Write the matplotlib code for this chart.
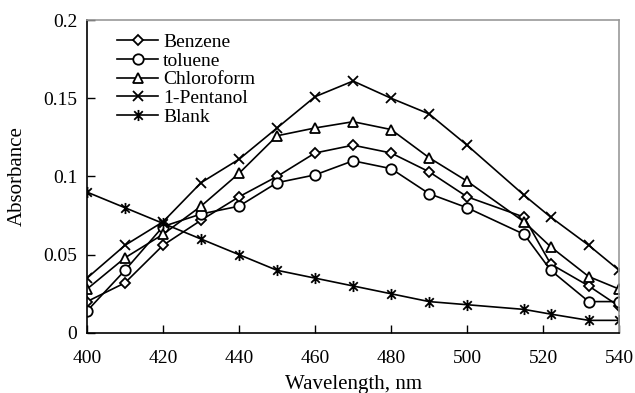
import matplotlib
matplotlib.use("Agg")
import matplotlib.pyplot as plt
from matplotlib.path import Path

wavelength = [400, 410, 420, 430, 440, 450, 460, 470, 480, 490, 500, 515, 522, 532, 540]
benzene    = [0.020, 0.032, 0.056, 0.072, 0.087, 0.100, 0.115, 0.120, 0.115, 0.103, 0.087, 0.074, 0.044, 0.030, 0.017]
toluene    = [0.014, 0.040, 0.068, 0.076, 0.081, 0.096, 0.101, 0.110, 0.105, 0.089, 0.080, 0.063, 0.040, 0.020, 0.020]
chloroform = [0.028, 0.048, 0.063, 0.081, 0.102, 0.126, 0.131, 0.135, 0.130, 0.112, 0.097, 0.071, 0.055, 0.036, 0.028]
pentanol   = [0.035, 0.056, 0.071, 0.096, 0.111, 0.131, 0.151, 0.161, 0.150, 0.140, 0.120, 0.088, 0.074, 0.056, 0.040]
blank      = [0.090, 0.080, 0.070, 0.060, 0.050, 0.040, 0.035, 0.030, 0.025, 0.020, 0.018, 0.015, 0.012, 0.008, 0.008]

labels = ["Benzene", "toluene", "Chloroform", "1-Pentanol", "Blank"]

plt.rcParams['font.family'] = ['Liberation Serif', 'DejaVu Serif']

star = Path([(-1, -1), (1, 1), (-1, 1), (1, -1), (0, -1.3), (0, 1.3)],
            [Path.MOVETO, Path.LINETO, Path.MOVETO, Path.LINETO, Path.MOVETO, Path.LINETO])

fig = plt.figure(figsize=(6.35, 3.93), dpi=100)
ax = fig.add_axes([0.137, 0.153, 0.838, 0.796])

styles = [
    (benzene, 'D', 5.5),
    (toluene, 'o', 7.5),
    (chloroform, '^', 7.5),
    (pentanol, 'x', 7.5),
    (blank, star, 8),
]
for (vals, m, ms), lab in zip(styles, labels):
    ax.plot(wavelength, vals, color='black', lw=1.2, marker=m, ms=ms,
            mfc='white', mec='black', mew=1.3, label=lab)

ax.set_xlim(400, 540)
ax.set_ylim(0, 0.2)
ax.set_xticks([400, 420, 440, 460, 480, 500, 520, 540])
ax.set_yticks([0, 0.05, 0.1, 0.15, 0.2])
ax.set_yticklabels(['0', '0.05', '0.1', '0.15', '0.2'])
ax.tick_params(direction='in', length=6, width=1, labelsize=14, colors='black')
ax.tick_params(axis='x', pad=12)
ax.tick_params(axis='y', pad=7)
for s in ['left', 'bottom']:
    ax.spines[s].set_color('black')
    ax.spines[s].set_linewidth(1.2)
for s in ['top', 'right']:
    ax.spines[s].set_color('#999999')
    ax.spines[s].set_linewidth(1.2)

ax.set_xlabel('Wavelength, nm', fontsize=15, labelpad=6)
ax.set_ylabel('Absorbance', fontsize=15, labelpad=12)

leg = ax.legend(loc='upper left', bbox_to_anchor=(0.035, 0.995), frameon=False,
                fontsize=14, handlelength=2.1, handletextpad=0.25,
                labelspacing=0.06, borderaxespad=0.2)

fig.savefig('out.png', dpi=100)
